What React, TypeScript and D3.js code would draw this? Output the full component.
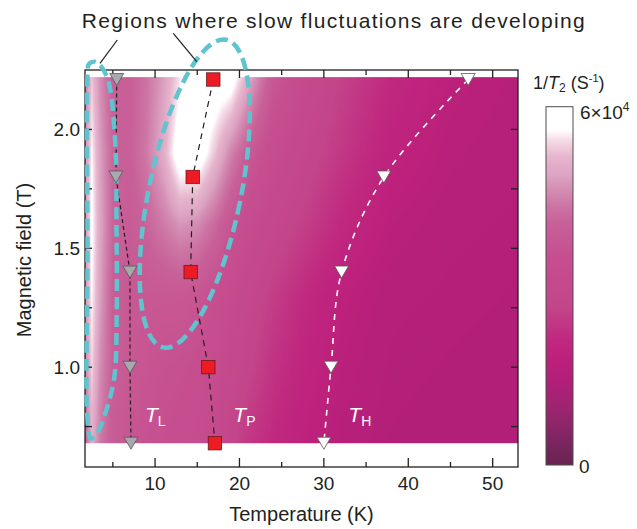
import React, { useMemo } from "react";
import * as d3 from "d3";

// 1/T2 map, values in units of 10^4 s^-1
const tempCols = [1.7, 2.5, 3.5, 5, 7, 9, 11, 13, 15, 17, 19, 21, 24, 28, 32, 38, 45, 53];
const fieldRows = [0.68, 1.0, 1.3, 1.6, 1.9, 2.22];
const rateAt068 = [4.0, 5.0, 4.4, 3.9, 3.7, 3.6, 3.5, 3.4, 3.3, 3.1, 2.7, 2.4, 2.1, 1.8, 1.6, 1.45, 1.4, 1.4];
const rateAt100 = [4.4, 5.4, 4.6, 4.0, 3.8, 3.7, 3.6, 3.55, 3.45, 3.3, 3.0, 2.7, 2.3, 1.95, 1.7, 1.5, 1.45, 1.4];
const rateAt130 = [4.6, 5.6, 4.8, 4.0, 3.8, 3.8, 3.8, 3.8, 3.7, 3.5, 3.2, 2.9, 2.5, 2.1, 1.8, 1.55, 1.5, 1.45];
const rateAt160 = [4.7, 5.7, 4.9, 4.1, 3.9, 4.1, 4.4, 4.7, 4.6, 4.2, 3.7, 3.3, 2.9, 2.5, 2.1, 1.7, 1.55, 1.5];
const rateAt190 = [4.6, 5.6, 4.8, 4.1, 4.0, 4.4, 5.0, 6.0, 6.0, 5.3, 4.5, 3.9, 3.3, 2.8, 2.4, 1.9, 1.65, 1.55];
const rateAt222 = [4.3, 5.3, 4.6, 4.0, 4.0, 4.3, 4.8, 5.5, 6.0, 6.0, 5.9, 5.0, 3.8, 3.1, 2.6, 2.1, 1.75, 1.6];
const rateRows = [rateAt068, rateAt100, rateAt130, rateAt160, rateAt190, rateAt222];

// characteristic temperatures
const markerFields = [2.21, 1.8, 1.4, 1.0, 0.68];
const tLow = [5.46, 5.37, 7.03, 7.03, 7.15];
const tPeak = [16.9, 14.46, 14.22, 16.31, 17.09];
const tHigh = [47.1, 37.1, 32.1, 30.85, 30.0];

// outline of the narrow region near the left edge (T, field)
const leftRegion = [
  [2.0, 2.23], [2.0, 1.49], [2.0, 0.78], [2.41, 0.7], [3.12, 0.72], [3.95, 0.79],
  [5.14, 0.95], [5.45, 1.2], [5.43, 1.58], [5.25, 1.96], [4.31, 2.22], [3.0, 2.284], [2.17, 2.275],
];

const xMajor = [10, 20, 30, 40, 50];
const xMinor = [5, 15, 25, 35, 45];
const yMajor = [1.0, 1.5, 2.0];
const yAll = [0.75, 1.0, 1.25, 1.5, 1.75, 2.0];

// colour bar
const cbStops = [0, 0.07, 0.116, 0.163, 0.23, 0.3, 0.35, 0.44, 0.58, 0.674, 0.72, 0.767, 0.805, 0.86, 0.907, 0.935, 1];
const cbColors = ["#6a2350", "#7d2560", "#8f2668", "#9f2470", "#b01f78", "#bd217c", "#c0287f", "#c3458a", "#c64e8f", "#c86098", "#cc73a3", "#d38cb2", "#dca2c2", "#e6b5cc", "#f5dce8", "#ffffff", "#ffffff"];
const rateMax = 6;

const FONT = "'Liberation Sans', Arial, Helvetica, sans-serif";

export default function App() {
  const width = 637;
  const height = 529;
  const x = d3.scaleLinear().domain([1.7, 53]).range([85, 518]);
  const y = d3.scaleLinear().domain([0.58, 2.25]).range([467, 70]);
  const color = d3
    .scaleLinear<string>()
    .domain(cbStops.map((s) => s * rateMax))
    .range(cbColors)
    .clamp(true);

  const hx0 = x(tempCols[0]);
  const hx1 = x(tempCols[tempCols.length - 1]);
  const hy0 = y(fieldRows[fieldRows.length - 1]);
  const hy1 = y(fieldRows[0]);

  const heatUrl = useMemo(() => {
    const w = Math.round(hx1 - hx0);
    const h = Math.round(hy1 - hy0);
    const canvas = document.createElement("canvas");
    canvas.width = w;
    canvas.height = h;
    const ctx = canvas.getContext("2d");
    if (!ctx) return "";
    const img = ctx.createImageData(w, h);
    const lut = d3.range(512).map((i) => d3.rgb(color((i / 511) * rateMax)));
    const rowScales = rateRows.map((r) => d3.scaleLinear().domain(tempCols).range(r).clamp(true));
    for (let i = 0; i < w; i++) {
      const T = x.invert(hx0 + i + 0.5);
      const colVals = rowScales.map((s) => s(T));
      const colScale = d3.scaleLinear().domain(fieldRows).range(colVals).clamp(true);
      for (let j = 0; j < h; j++) {
        const B = y.invert(hy0 + j + 0.5);
        const v = colScale(B);
        const c = lut[Math.max(0, Math.min(511, Math.round((v / rateMax) * 511)))];
        const k = (j * w + i) * 4;
        img.data[k] = c.r;
        img.data[k + 1] = c.g;
        img.data[k + 2] = c.b;
        img.data[k + 3] = 255;
      }
    }
    ctx.putImageData(img, 0, 0);
    return canvas.toDataURL();
  }, []);

  const line = d3
    .line<[number, number]>()
    .x((d) => x(d[0]))
    .y((d) => y(d[1]));
  const curvy = d3
    .line<[number, number]>()
    .x((d) => x(d[0]))
    .y((d) => y(d[1]))
    .curve(d3.curveCatmullRom.alpha(0.5));
  const loop = d3
    .line<number[]>()
    .x((d) => x(d[0]))
    .y((d) => y(d[1]))
    .curve(d3.curveCatmullRomClosed.alpha(0.5));

  const lowPts = tLow.map((t, i) => [t, markerFields[i]] as [number, number]);
  const peakPts = tPeak.map((t, i) => [t, markerFields[i]] as [number, number]);
  const highPts = tHigh.map((t, i) => [t, markerFields[i]] as [number, number]);

  const tri = "M-7,-6L7,-6L0,6Z";
  const ecx = x(14.7);
  const ecy = y(1.73);
  const cyan = "#5ec5ce";

  const cb = { x: 546, y: 106.7, w: 27, h: 358.3 };
  const labelH = 0.769;

  return (
    <svg
      width={width}
      height={height}
      style={{ display: "block", position: "absolute", left: 0, top: 0, fontFamily: FONT }}
    >
      <defs>
        <linearGradient id="cbar" x1="0" y1="1" x2="0" y2="0">
          {cbStops.map((s, i) => (
            <stop key={i} offset={s} stopColor={cbColors[i]} />
          ))}
        </linearGradient>
      </defs>
      <rect width={width} height={height} fill="#fff" />

      {/* heat map */}
      {heatUrl && (
        <image href={heatUrl} x={hx0} y={hy0} width={hx1 - hx0} height={hy1 - hy0} preserveAspectRatio="none" />
      )}

      {/* frame and ticks */}
      <g stroke="#231f20" strokeWidth={1.3} fill="none">
        <rect x={85} y={70} width={433} height={397} />
        {xMajor.map((t) => (
          <g key={"xM" + t}>
            <line x1={x(t)} x2={x(t)} y1={467} y2={458} />
            <line x1={x(t)} x2={x(t)} y1={70} y2={78} />
          </g>
        ))}
        {xMinor.map((t) => (
          <g key={"xm" + t}>
            <line x1={x(t)} x2={x(t)} y1={467} y2={462} />
            <line x1={x(t)} x2={x(t)} y1={70} y2={75} />
          </g>
        ))}
        {yAll.map((b) => (
          <g key={"y" + b}>
            <line x1={85} x2={92} y1={y(b)} y2={y(b)} />
            <line x1={518} x2={511} y1={y(b)} y2={y(b)} />
          </g>
        ))}
      </g>
      <g fontSize={19} fill="#231f20">
        {xMajor.map((t) => (
          <text key={t} x={x(t)} y={490} textAnchor="middle">
            {t}
          </text>
        ))}
        {yMajor.map((b) => (
          <text key={b} x={80} y={y(b)} dy="0.35em" textAnchor="end">
            {b.toFixed(1)}
          </text>
        ))}
      </g>
      <text x={301.5} y={521} textAnchor="middle" fontSize={20} fill="#231f20">
        Temperature (K)
      </text>
      <text transform="translate(31,260) rotate(-90)" textAnchor="middle" fontSize={20} fill="#231f20">
        Magnetic field (T)
      </text>

      {/* characteristic temperature lines */}
      <path d={line(lowPts) || ""} fill="none" stroke="#231f20" strokeWidth={1.2} strokeDasharray="4 3" />
      <path d={line(peakPts) || ""} fill="none" stroke="#231f20" strokeWidth={1.2} strokeDasharray="6 5" />
      <path d={curvy(highPts) || ""} fill="none" stroke="#fff" strokeWidth={1.6} strokeDasharray="6 6" />

      {/* slow fluctuation regions */}
      <g fill="none" stroke={cyan} strokeWidth={4.5} strokeDasharray="12 6">
        <path d={loop(leftRegion) || ""} />
        <ellipse cx={ecx} cy={ecy} rx={46} ry={157} transform={`rotate(11.6 ${ecx} ${ecy})`} />
      </g>

      {/* markers */}
      {lowPts.map((p, i) => (
        <path key={"l" + i} d={tri} transform={`translate(${x(p[0])},${y(p[1])})`} fill="#a7a9ac" stroke="#58595b" strokeWidth={0.8} />
      ))}
      {highPts.map((p, i) => (
        <path key={"h" + i} d={tri} transform={`translate(${x(p[0])},${y(p[1])})`} fill="#fff" stroke="#58595b" strokeWidth={0.8} />
      ))}
      {peakPts.map((p, i) => (
        <rect key={"p" + i} x={x(p[0]) - 6.7} y={y(p[1]) - 6.7} width={13.4} height={13.4} fill="#ed1c24" stroke="#6d1a1f" strokeWidth={0.8} />
      ))}

      {/* region labels */}
      <g fill="#fff">
        {[
          [8.81, "L"],
          [19.27, "P"],
          [32.9, "H"],
        ].map(([t, s]) => (
          <text key={s as string} x={x(t as number)} y={y(labelH)}>
            <tspan fontStyle="italic" fontSize={21}>T</tspan>
            <tspan fontSize={14} dy={4}>{s}</tspan>
          </text>
        ))}
      </g>

      {/* title and leader lines */}
      <text x={81.7} y={28.3} fontSize={21} fill="#231f20" textLength={503} lengthAdjust="spacing">
        Regions where slow fluctuations are developing
      </text>
      <g stroke="#231f20" strokeWidth={1.2}>
        <line x1={117.3} y1={40} x2={100} y2={63.3} />
        <line x1={173.3} y1={33.3} x2={196.7} y2={61.7} />
      </g>

      {/* colour bar */}
      <rect x={cb.x} y={cb.y} width={cb.w} height={cb.h} fill="url(#cbar)" stroke="#4d4d4f" strokeWidth={1} />
      <text x={533} y={89} fontSize={18} fill="#231f20">
        1/<tspan fontStyle="italic">T</tspan>
        <tspan fontSize={12} dy={3}>2</tspan>
        <tspan dy={-3}> (S</tspan>
        <tspan fontSize={11} dy={-7}>-1</tspan>
        <tspan dy={7}>)</tspan>
      </text>
      <text x={580} y={119} fontSize={19} fill="#231f20">
        6×10<tspan fontSize={12} dy={-8}>4</tspan>
      </text>
      <text x={579} y={473} fontSize={19} fill="#231f20">
        0
      </text>
    </svg>
  );
}
